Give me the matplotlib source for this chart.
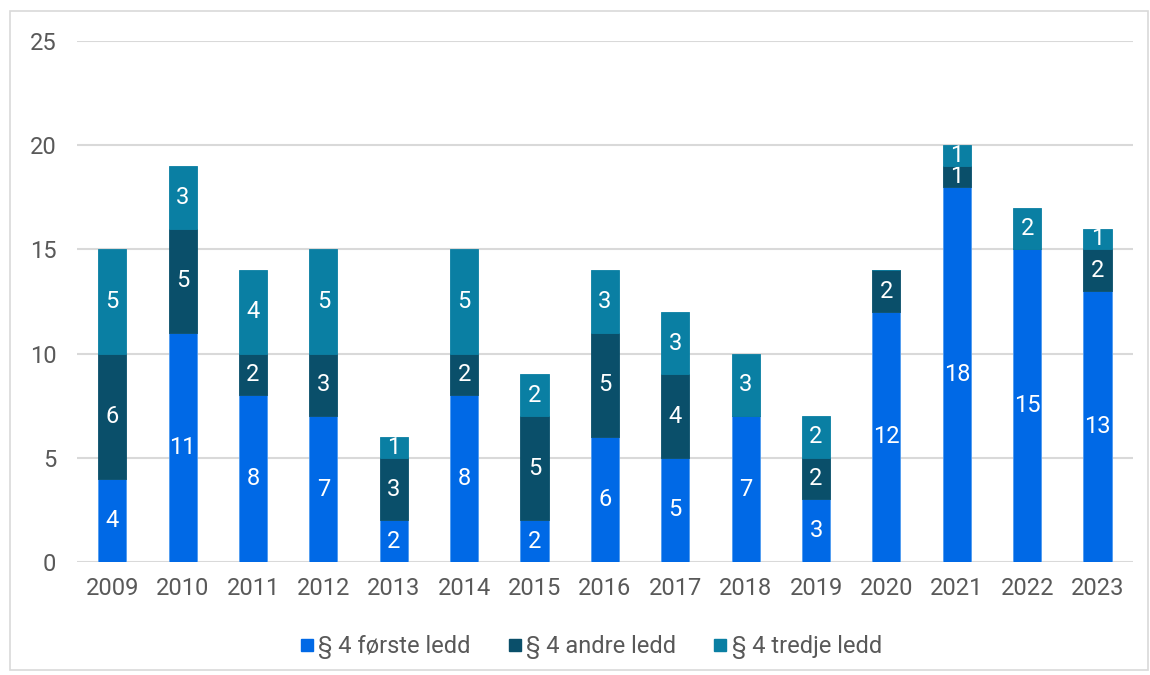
import matplotlib
matplotlib.use('Agg')
from matplotlib import pyplot as plt
from matplotlib.patches import Rectangle
from matplotlib.lines import Line2D
import numpy as np

plt.rcParams['font.family'] = ['Roboto', 'DejaVu Sans']

years = ['2009', '2010', '2011', '2012', '2013', '2014', '2015', '2016',
         '2017', '2018', '2019', '2020', '2021', '2022', '2023']

forste = [4, 11, 8, 7, 2, 8, 2, 6, 5, 7, 3, 12, 18, 15, 13]
andre = [6, 5, 2, 3, 3, 2, 5, 5, 4, 0, 2, 2, 1, 0, 2]
tredje = [5, 3, 4, 5, 1, 5, 2, 3, 3, 3, 2, 0, 1, 2, 1]

names = ['§ 4 første ledd', '§ 4 andre ledd', '§ 4 tredje ledd']
colors = ['#0069E6', '#0A4F6A', '#0A7FA3']

x = np.arange(len(years))
width = 0.4

fig = plt.figure(figsize=(11.5, 6.75), dpi=100)
ax = fig.add_axes([0.067, 0.1674, 0.918, 0.772])

# light frame round the whole chart
fig.patches.append(Rectangle((10 / 1150, 5 / 675), 1138 / 1150, 659 / 675,
                             transform=fig.transFigure, fill=False,
                             edgecolor='#D9D9D9', linewidth=1.2))

bottom = np.zeros(len(years))
for vals, name, col in zip([forste, andre, tredje], names, colors):
    bars = ax.bar(x, vals, width, bottom=bottom, label=name, color=col,
                  edgecolor='#4D9BF0' if col == '#0069E6' else col,
                  linewidth=0.6, zorder=3)
    labels = [str(v) if v > 0 else '' for v in vals]
    ax.bar_label(bars, labels=labels, label_type='center', color='white',
                 fontsize=17)
    bottom += np.array(vals)

ax.set_xlim(-0.5, len(years) - 0.5)
ax.set_ylim(0, 25)
ax.set_yticks([0, 5, 10, 15, 20, 25])
ax.set_xticks(x)
ax.set_xticklabels(years)
ax.yaxis.grid(True, color='#D9D9D9', linewidth=1.5, zorder=0)
ax.set_axisbelow(True)
for s in ax.spines.values():
    s.set_visible(False)
ax.tick_params(axis='both', length=0, labelsize=17, labelcolor='#595959')
ax.tick_params(axis='x', pad=11)
ax.tick_params(axis='y', pad=15)

# square legend keys
handles = [Line2D([], [], marker='s', linestyle='', color=c, markersize=9)
           for c in colors]
ax.legend(handles, names, loc='upper center', bbox_to_anchor=(0.487, -0.1),
          ncol=3, frameon=False, fontsize=17, labelcolor='#595959',
          handlelength=0.55, handletextpad=0.2, columnspacing=1.6)

fig.savefig('out.png', dpi=100)
